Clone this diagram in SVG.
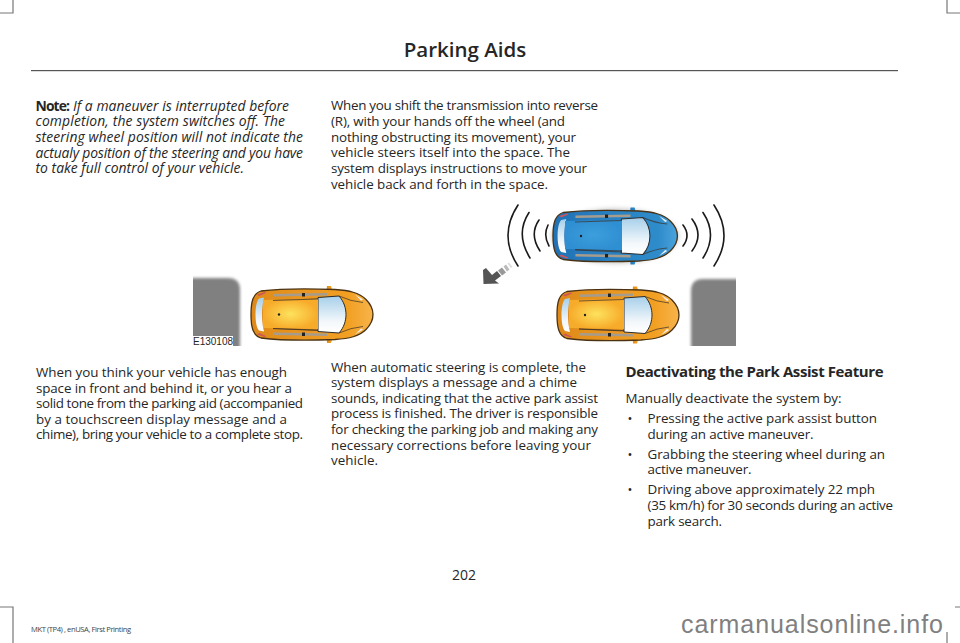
<svg xmlns="http://www.w3.org/2000/svg" width="960" height="643" viewBox="0 0 960 643">
<defs>
<style>
text{font-family:"Open Sans","Noto Sans","Liberation Sans",sans-serif;fill:#262626;font-size:13.4px}
.i{font-style:italic;font-size:13.9px}
.bd{font-weight:700;font-size:13.9px}
.h1{font-size:20.5px;font-weight:600;text-anchor:middle}
.h2{font-size:15px;font-weight:700}
.bl{font-size:13px}
.num{font-size:14px}
.mark{fill:none;stroke:#777;stroke-width:1.2}
.arc{fill:none;stroke:#1a1a1a;stroke-width:1.6;stroke-linecap:round}
.wall{fill:#808080}
.det{fill:none;stroke:#3a3026;stroke-width:1}
.tag{font-family:"Liberation Sans",Arial,sans-serif;font-size:10px}
.foot{font-size:7.6px;fill:#444}
.wm{font-family:"Liberation Sans",Arial,sans-serif;font-size:25px;fill:#808080}
</style>
<clipPath id="clipL"><rect x="193" y="270" width="60" height="76"/></clipPath>
<clipPath id="clipR"><rect x="680" y="270" width="56" height="76"/></clipPath>
<filter id="soft" x="-10%" y="-10%" width="120%" height="120%"><feGaussianBlur stdDeviation="0.5"/></filter>
<filter id="wallblur" x="-20%" y="-20%" width="140%" height="140%"><feGaussianBlur stdDeviation="1.4"/></filter>
<filter id="shadow" x="-20%" y="-40%" width="140%" height="180%"><feGaussianBlur stdDeviation="2.5"/></filter>
<linearGradient id="blue" x1="0" x2="1"><stop offset="0" stop-color="#2272b4"/><stop offset="0.85" stop-color="#2f8ccb"/><stop offset="1" stop-color="#4aa3dc"/></linearGradient>
<linearGradient id="amber" x1="0" x2="1"><stop offset="0" stop-color="#dd8a1c"/><stop offset="0.8" stop-color="#f2a024"/><stop offset="1" stop-color="#f7b44a"/></linearGradient>
<radialGradient id="roofA"><stop offset="0" stop-color="#fde25e"/><stop offset="1" stop-color="#f7ab2a"/></radialGradient>
<radialGradient id="roofB"><stop offset="0" stop-color="#3c9fdc"/><stop offset="1" stop-color="#2f8fd2"/></radialGradient>
<linearGradient id="glass" x1="0" x2="0" y1="0" y2="1"><stop offset="0" stop-color="#a6cfea"/><stop offset="0.7" stop-color="#f4f8fb"/><stop offset="1" stop-color="#ffffff"/></linearGradient>
<g id="car">
<path d="M76 -1.500l4 0 1.500 5-6 0ZM76 55.500l4 0 1.500-5-6 0Z"/>
<path d="M0 27C0 14 2 6 10 3.500C30 1 60 1 84 2C98 3 108 5 115 12C120 17 122 22 122 27C122 32 120 37 115 42C108 49 98 51 84 52C60 53 30 53 10 50.500C2 48 0 40 0 27Z" stroke="#4a3212" stroke-width="1.300"/>
<path d="M4.500 27C4.500 20 5.500 14 8 11L13 10C11.500 16 11 22 11 27C11 33 11.500 38 13 44L8 43C5.500 40 4.500 34 4.500 27Z" fill="url(#glass)"/>
<path d="M67 10L88 8.500C93 14 95 21 95 27C95 33 93 40 88 45.500L67 44Z" fill="url(#glass)" stroke="#2b2b2b" stroke-width="1"/>
<path d="M22 6.500L76 5.500L76 8L22 9ZM22 47.500L76 48.500L76 46L22 45Z" fill="#a59c8e"/>
<path d="M51 5.500h3v3.500h-3ZM51 45h3v3.500h-3Z" fill="#222"/>
<path d="M6 7L14 4.500L15 5.500L8 8.500ZM6 47L14 49.500L15 48.500L8 45.500Z" fill="#d0555a"/>
<path d="M104 7L112 12L110 13ZM104 47L112 42L110 41Z" fill="#eef3f6"/>
<path class="det" d="M22 13L67 11.500M22 41L67 43M88 8.500Q100 14 112 15M88 45.500Q100 40 112 39" opacity="0.700"/>
<circle cx="28" cy="27" r="1.200" fill="#222"/>
</g>
</defs>
<rect width="960" height="643" fill="#fff"/>
<g id="crop-marks">
<path class="mark" d="M13 0V13H0M13 643V607H0M947 0V13H960M947 632V643M955 607H960"/>
</g>
<g id="header">
<text x="465" y="57" class="h1">Parking Aids</text>
<rect x="31" y="70" width="867" height="1.200" fill="#555"/>
</g>
<g id="note">
<text x="35.500" y="110.500" class="bd" textLength="34.500">Note:</text>
<text x="73" y="110.500" class="i" textLength="216">If a maneuver is interrupted before</text>
<text x="35.500" y="126" class="i" textLength="249.500">completion, the system switches off. The</text>
<text x="35.500" y="141.800" class="i" textLength="267.500">steering wheel position will not indicate the</text>
<text x="35.500" y="157.500" class="i" textLength="267.500">actualy position of the steering and you have</text>
<text x="35.500" y="173" class="i" textLength="208.500">to take full control of your vehicle.</text>
</g>
<g id="shift-text">
<text x="331" y="110" textLength="267">When you shift the transmission into reverse</text>
<text x="331" y="126" textLength="234">(R), with your hands off the wheel (and</text>
<text x="331" y="141.500" textLength="245">nothing obstructing its movement), your</text>
<text x="331" y="157.300" textLength="239">vehicle steers itself into the space. The</text>
<text x="331" y="173" textLength="256">system displays instructions to move your</text>
<text x="331" y="188.800" textLength="217">vehicle back and forth in the space.</text>
</g>
<g id="figure-left">
<g clip-path="url(#clipL)"><path class="wall" filter="url(#wallblur)" d="M185 278H228Q240 278 240 290V356H185Z"/></g>
<use href="#car" transform="translate(251 287.500)" fill="url(#amber)" filter="url(#soft)"/>
<path d="M263 300L318 299L318 329L263 328Z" fill="url(#roofA)" filter="url(#soft)"/>
<path class="det" d="M273 300.500L318 299M273 328.500L318 330" opacity="0.700"/>
<circle cx="279" cy="314.500" r="1.200" fill="#222"/>
<rect x="192" y="336" width="41" height="11" fill="#fff"/>
<text x="193" y="345" class="tag">E130108</text>
</g>
<g id="figure-right">
<g clip-path="url(#clipR)"><path class="wall" filter="url(#wallblur)" d="M744 279H703Q691 279 691 291V356H744Z"/></g>
<use href="#car" transform="translate(557 288)" fill="url(#amber)" filter="url(#soft)"/>
<path d="M569 300L624 299L624 329L569 328Z" fill="url(#roofA)" filter="url(#soft)"/>
<path class="det" d="M579 301L624 299.500M579 329L624 330.500" opacity="0.700"/>
<circle cx="585" cy="315" r="1.200" fill="#222"/>
<ellipse cx="615" cy="236" rx="63" ry="27" fill="#888" opacity="0.550" filter="url(#shadow)"/>
<use href="#car" transform="translate(553 209) scale(1.020 1)" fill="url(#blue)" filter="url(#soft)"/>
<path d="M565 221L622 220L622 250L565 249Z" fill="url(#roofB)" filter="url(#soft)"/>
<path class="det" d="M575 222L622 220.500M575 249.500L622 251" opacity="0.700"/>
<circle cx="581" cy="236" r="1.200" fill="#222"/>
<path class="arc" d="M548 225Q543 235.500 549 246M539 220Q529 234.500 540 251M529 212.500Q515 234 530 258M518 205Q498 235.500 518 266"/>
<path class="arc" d="M683 225Q691 235.500 683 246M692 219Q704 235 692 251M703 212.500Q718 235 703 258M714 205Q734 235.500 714 266"/>
<path d="M483 270L486 268L492 275L497 271L501 276L495 280.500L499 283.500L483.500 284Z" fill="#555"/>
<path d="M498 270.500L502 267.500L506 272.500L502 275.500Z" fill="#999"/>
<path d="M503.500 266.500L506 264.500L509.500 269.500L507 271.500Z" fill="#bbb"/>
<path d="M507.500 263.500L509 262.500L512.500 267L511 268Z" fill="#ddd"/>
</g>
<g id="stop-text">
<text x="36" y="377" textLength="251">When you think your vehicle has enough</text>
<text x="36" y="392.600" textLength="256">space in front and behind it, or you hear a</text>
<text x="36" y="408" textLength="267">solid tone from the parking aid (accompanied</text>
<text x="36" y="423.500" textLength="251">by a touchscreen display message and a</text>
<text x="36" y="439" textLength="267">chime), bring your vehicle to a complete stop.</text>
</g>
<g id="complete-text">
<text x="331" y="371.500" textLength="255">When automatic steering is complete, the</text>
<text x="331" y="387" textLength="246">system displays a message and a chime</text>
<text x="331" y="402.600" textLength="267">sounds, indicating that the active park assist</text>
<text x="331" y="418.300" textLength="267">process is finished. The driver is responsible</text>
<text x="331" y="434" textLength="267">for checking the parking job and making any</text>
<text x="331" y="449.700" textLength="260">necessary corrections before leaving your</text>
<text x="331" y="465.400" textLength="47">vehicle.</text>
</g>
<g id="deactivate-text">
<text x="625.500" y="376.500" class="h2" textLength="258">Deactivating the Park Assist Feature</text>
<text x="625.500" y="403" textLength="216">Manually deactivate the system by:</text>
<text x="627.500" y="423" class="bl">•</text>
<text x="647.500" y="423" textLength="229.500">Pressing the active park assist button</text>
<text x="647.500" y="438.800" textLength="166">during an active maneuver.</text>
<text x="627.500" y="458.500" class="bl">•</text>
<text x="647.500" y="458.500" textLength="237.500">Grabbing the steering wheel during an</text>
<text x="647.500" y="474.300" textLength="104">active maneuver.</text>
<text x="627.500" y="494" class="bl">•</text>
<text x="647.500" y="494" textLength="227.500">Driving above approximately 22 mph</text>
<text x="647.500" y="509.800" textLength="245.500">(35 km/h) for 30 seconds during an active</text>
<text x="647.500" y="525.500" textLength="74.500">park search.</text>
</g>
<g id="footer">
<text x="464" y="580" text-anchor="middle" class="num">202</text>
<text x="31" y="632" class="foot" textLength="100">MKT (TP4) , enUSA, First Printing</text>
<text x="681" y="632.700" class="wm" textLength="262">carmanualsonline.info</text>
</g>
</svg>
